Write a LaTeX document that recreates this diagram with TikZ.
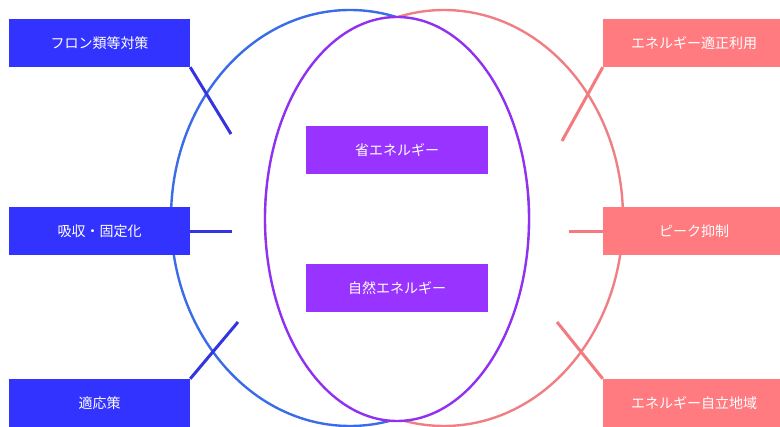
\documentclass[tikz,border=0pt]{standalone}
\usepackage{fontspec}
\setmainfont{Noto Sans CJK JP}
\definecolor{bluebox}{HTML}{3333FF}
\definecolor{bluering}{HTML}{3B6CE8}
\definecolor{bluelink}{HTML}{3535E0}
\definecolor{pinkbox}{HTML}{FF7B80}
\definecolor{pinkring}{HTML}{F07F84}
\definecolor{pinklink}{HTML}{F47A80}
\definecolor{purpring}{HTML}{9030F0}
\definecolor{purpbox}{HTML}{9933FF}
\tikzset{
  lbox/.style={rectangle, fill=bluebox, text=white, minimum width=181pt, minimum height=48pt, inner sep=0pt, font=\fontsize{14}{16}\selectfont},
  rbox/.style={lbox, fill=pinkbox, minimum width=182pt},
  cbox/.style={lbox, fill=purpbox, minimum width=182pt},
  ring/.style={line width=2.4pt},
  llink/.style={draw=bluelink, line width=3pt},
  rlink/.style={draw=pinklink, line width=3pt}
}
\begin{document}
\begin{tikzpicture}[x=1pt,y=-1pt]
\useasboundingbox (0,0) rectangle (780,427);
% rings
\draw[ring, bluering] (350,218) ellipse [x radius=179pt, y radius=208pt];
\draw[ring, pinkring] (444,218) ellipse [x radius=179pt, y radius=208pt];
\draw[ring, purpring, fill=white] (397,219) ellipse [x radius=132pt, y radius=202pt];
% boxes
\node[lbox] (l1) at (99.5,43) {フロン類等対策};
\node[lbox] (l2) at (99.5,231.5) {吸収・固定化};
\node[lbox] (l3) at (99.5,403) {適応策};
\node[rbox] (r1) at (694,43) {エネルギー適正利用};
\node[rbox] (r2) at (694,231.5) {ピーク抑制};
\node[rbox] (r3) at (694,403) {エネルギー自立地域};
\node[cbox] (c1) at (397,150) {省エネルギー};
\node[cbox] (c2) at (397,288) {自然エネルギー};
% link ends
\coordinate (e1) at (231,134);
\coordinate (e2) at (232,231.5);
\coordinate (e3) at (238,322);
\coordinate (f1) at (562,141);
\coordinate (f2) at (569,231.5);
\coordinate (f3) at (557,322);
\draw[llink] (l1.south east) -- (e1);
\draw[llink] (l2.east) -- (e2);
\draw[llink] (l3.north east) -- (e3);
\draw[rlink] (r1.south west) -- (f1);
\draw[rlink] (r2.west) -- (f2);
\draw[rlink] (r3.north west) -- (f3);
\end{tikzpicture}
\end{document}
